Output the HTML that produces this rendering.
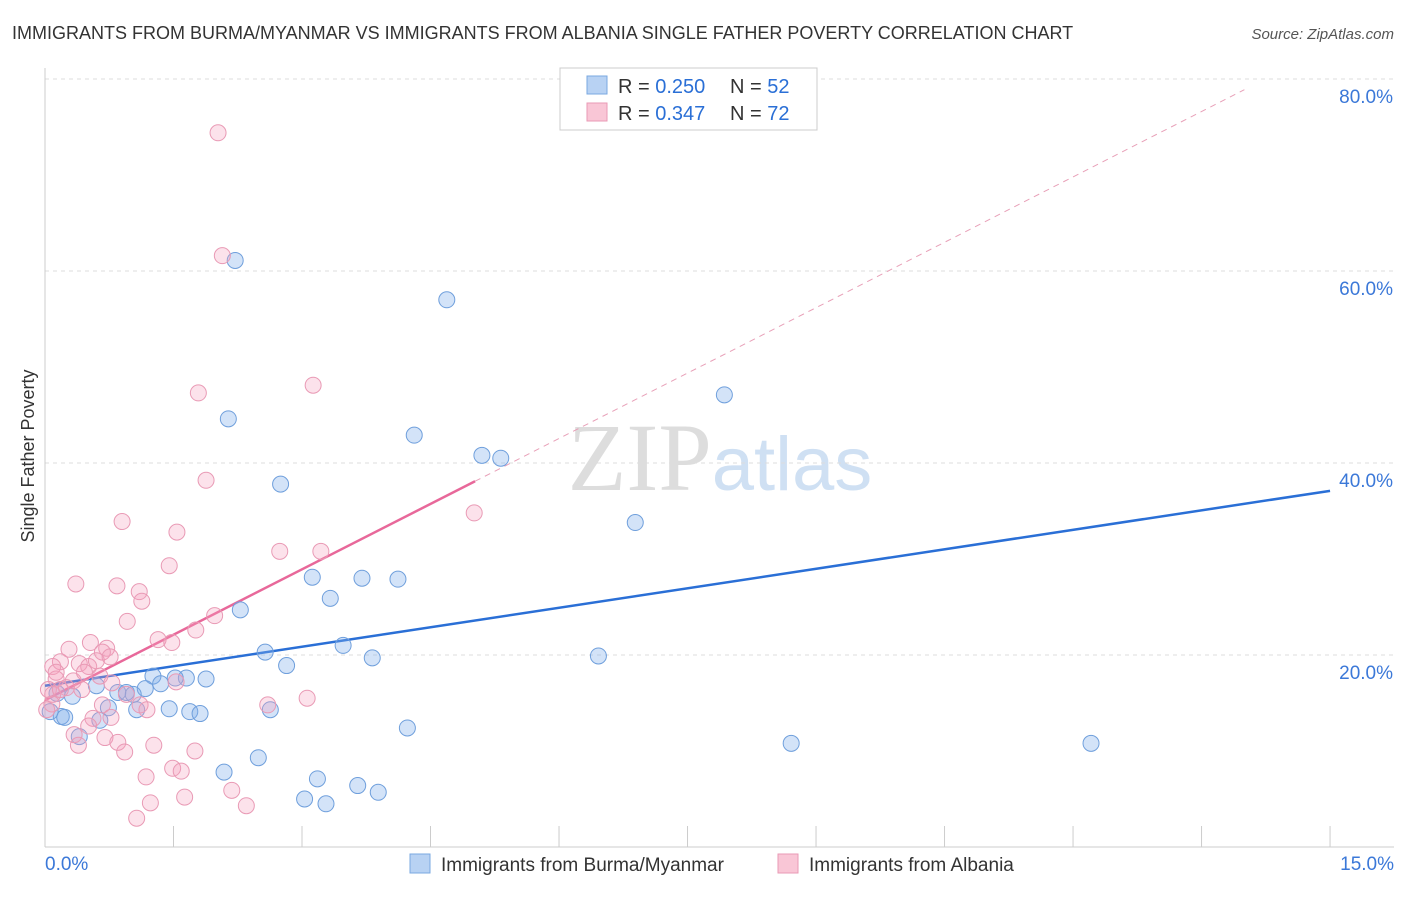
<!DOCTYPE html>
<html><head><meta charset="utf-8"><style>
body{margin:0;background:#fff;font-family:"Liberation Sans",sans-serif;}
svg text{font-family:"Liberation Sans",sans-serif;}
</style></head><body>
<svg id="chart" width="1406" height="892" xmlns="http://www.w3.org/2000/svg">
<text x="12" y="39" font-size="18" fill="#333">IMMIGRANTS FROM BURMA/MYANMAR VS IMMIGRANTS FROM ALBANIA SINGLE FATHER POVERTY CORRELATION CHART</text>
<text x="1394" y="39" font-size="15" fill="#555" text-anchor="end" font-style="italic">Source: ZipAtlas.com</text>
<text x="720" y="490" font-size="96" text-anchor="middle" fill="#ddd"><tspan font-family="Liberation Serif">ZIP</tspan><tspan fill="#cfe0f3" font-size="76">atlas</tspan></text>
<g id="grid"></g>
<g id="axes"></g>
<g id="lines"></g>
<g id="pts"></g>
<text transform="translate(34,456) rotate(-90)" font-size="18" fill="#333" text-anchor="middle">Single Father Poverty</text>
<g>
<rect x="560" y="68" width="257" height="62" fill="#fff" stroke="#ccc"/>
<rect x="587" y="76" width="20" height="18" fill="#b8d2f3" stroke="#7aa8e0"/>
<rect x="587" y="103" width="20" height="18" fill="#f9c6d6" stroke="#e99ab5"/>
<text x="618" y="93" font-size="20" fill="#333">R = <tspan fill="#2a6fd6">0.250</tspan></text>
<text x="730" y="93" font-size="20" fill="#333">N = <tspan fill="#2a6fd6">52</tspan></text>
<text x="618" y="120" font-size="20" fill="#333">R = <tspan fill="#2a6fd6">0.347</tspan></text>
<text x="730" y="120" font-size="20" fill="#333">N = <tspan fill="#2a6fd6">72</tspan></text>
</g>
<g>
<rect x="410" y="854" width="20" height="19" fill="#b8d2f3" stroke="#7aa8e0"/>
<text x="441" y="871" font-size="19" fill="#333">Immigrants from Burma/Myanmar</text>
<rect x="778" y="854" width="20" height="19" fill="#f9c6d6" stroke="#e99ab5"/>
<text x="809" y="871" font-size="19" fill="#333">Immigrants from Albania</text>
</g>
</svg>
<script>
const yTicks=[20,40,60,80];
const yTickLabels=["20.0%","40.0%","60.0%","80.0%"];
const xTicks=[0,1.5,3,4.5,6,7.5,9,10.5,12,13.5,15];
const blueX=[2.22,4.69,2.14,4.31,5.10,5.32,7.93,2.75,6.89,2.28,3.12,3.70,4.12,3.33,3.48,2.57,3.82,2.82,6.46,1.26,1.65,1.88,1.52,1.35,1.17,0.60,0.85,0.95,1.03,0.32,0.14,0.19,0.23,0.06,1.07,1.45,1.69,1.81,2.63,0.64,0.40,4.23,2.49,2.09,3.18,3.03,3.28,3.65,3.89,8.71,12.21,0.74];
const blueY=[61.1,57.0,44.6,42.9,40.8,40.5,47.1,37.8,33.8,24.7,28.1,28.0,27.9,25.9,21.0,20.3,19.7,18.9,19.9,17.8,17.6,17.5,17.6,17.0,16.5,16.8,16.1,16.1,15.9,15.7,16.0,13.6,13.5,14.1,14.3,14.4,14.1,13.9,14.3,13.2,11.5,12.4,9.3,7.8,7.1,5.0,4.5,6.4,5.7,10.8,10.8,14.5];
const pinkX=[2.02,2.07,3.13,1.79,1.88,0.90,1.54,5.01,2.74,3.22,1.45,0.36,0.84,1.10,1.13,1.98,0.96,1.76,1.32,1.48,0.53,0.28,0.72,0.67,0.18,0.40,0.51,0.60,0.76,0.09,0.13,0.33,0.46,0.64,0.78,0.04,0.09,0.25,1.53,0.08,0.02,0.95,1.11,1.19,0.56,0.67,0.77,2.60,3.06,0.51,0.34,0.39,0.70,0.85,0.93,1.27,1.75,1.18,1.49,1.59,2.18,1.63,1.23,2.35,1.07,0.18,0.43,0.13];
const pinkY=[74.4,61.6,48.1,47.3,38.2,33.9,32.8,34.8,30.8,30.8,29.3,27.4,27.2,26.6,25.6,24.1,23.5,22.6,21.6,21.3,21.3,20.6,20.7,20.3,19.3,19.1,18.8,19.4,19.8,18.8,17.5,17.3,18.2,17.8,17.1,16.4,15.9,16.6,17.2,14.9,14.3,15.9,14.8,14.3,13.4,14.8,13.5,14.8,15.5,12.6,11.7,10.6,11.4,10.9,9.9,10.6,10.0,7.3,8.2,7.9,5.9,5.2,4.6,4.3,3.0,16.4,16.4,18.2];
const blueTrend=[0,16.8,15,37.1];
const pinkTrend=[0,15.3,5.02,38.1];
const pinkDashEnd=14.0;
const xs=v=>45+v*85.67, ys=v=>847-v*9.6;
const NS="http://www.w3.org/2000/svg";
function mk(tag,attrs,parent){const e=document.createElementNS(NS,tag);for(const k in attrs)e.setAttribute(k,attrs[k]);parent.appendChild(e);return e;}
const grid=document.getElementById('grid'),axes=document.getElementById('axes'),lines=document.getElementById('lines'),pts=document.getElementById('pts');
yTicks.forEach((t,i)=>{
 const l=mk('line',{x1:45,x2:1394,y1:ys(t),y2:ys(t),stroke:'#ddd','stroke-dasharray':'4,4'},grid);
 
 
 const tx=mk('text',{x:1393,y:ys(t)+24,'font-size':19,fill:'#3b78d8','text-anchor':'end'},axes);
 tx.textContent=yTickLabels[i];
 
 
});
const topLine=mk('line',{x1:45,x2:1394,y1:79,y2:79,stroke:'#ddd','stroke-dasharray':'4,4'},grid);


const xa=mk('line',{x1:45,x2:1394,y1:847,y2:847,stroke:'#ccc'},axes);


const ya=mk('line',{x1:45,x2:45,y1:68,y2:847,stroke:'#ccc'},axes);


xTicks.forEach(t=>{
 const l=mk('line',{x1:xs(t),x2:xs(t),y1:826,y2:847,stroke:'#ccc'},axes);
 
 
});
const x0=mk('text',{x:45,y:870,'font-size':19,fill:'#3b78d8'},axes);x0.textContent='0.0%';


const x1=mk('text',{x:1394,y:870,'font-size':19,fill:'#3b78d8','text-anchor':'end'},axes);x1.textContent='15.0%';


blueX.forEach((v,i)=>{
 const c=mk('circle',{cx:xs(v),cy:ys(blueY[i]),r:8,fill:'rgba(130,175,235,0.35)',stroke:'#6f9fdc','stroke-width':1},pts);
 
 
});
pinkX.forEach((v,i)=>{
 const c=mk('circle',{cx:xs(v),cy:ys(pinkY[i]),r:8,fill:'rgba(245,160,190,0.3)',stroke:'#e99ab5','stroke-width':1},pts);
 
 
});
const slope=(pinkTrend[3]-pinkTrend[1])/(pinkTrend[2]-pinkTrend[0]);
const pd=mk('line',{x1:xs(pinkTrend[2]),y1:ys(pinkTrend[3]),x2:xs(pinkDashEnd),y2:ys(pinkTrend[1]+slope*pinkDashEnd),stroke:'#e8a0b8','stroke-width':1,'stroke-dasharray':'6,5'},lines);


const bl=mk('line',{x1:xs(blueTrend[0]),y1:ys(blueTrend[1]),x2:xs(blueTrend[2]),y2:ys(blueTrend[3]),stroke:'#2a6fd6','stroke-width':2.5},lines);


const pl=mk('line',{x1:xs(pinkTrend[0]),y1:ys(pinkTrend[1]),x2:xs(pinkTrend[2]),y2:ys(pinkTrend[3]),stroke:'#e8689a','stroke-width':2.5},lines);


</script>
</body></html>
